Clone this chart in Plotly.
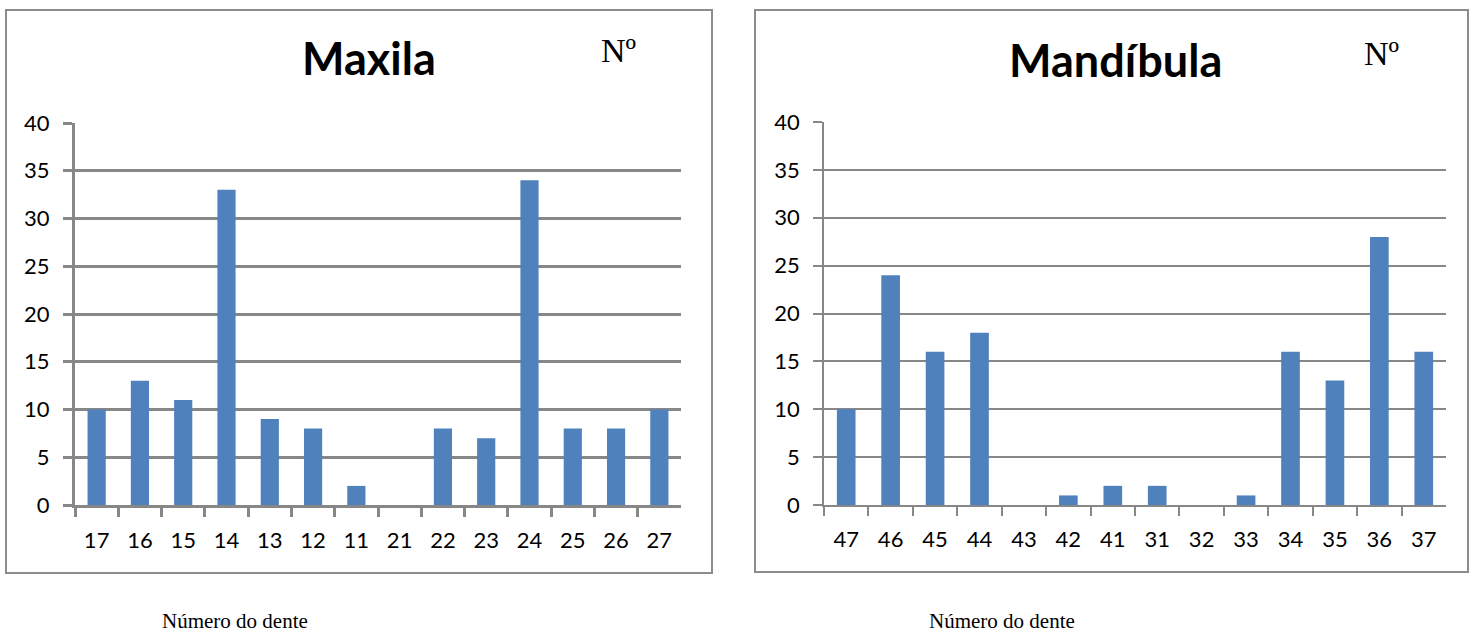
import plotly.graph_objects as go

# Tooth counts per tooth number
maxila_teeth = ["17", "16", "15", "14", "13", "12", "11", "21", "22", "23", "24", "25", "26", "27"]
maxila_counts = [10, 13, 11, 33, 9, 8, 2, 0, 8, 7, 34, 8, 8, 10]

mandibula_teeth = ["47", "46", "45", "44", "43", "42", "41", "31", "32", "33", "34", "35", "36", "37"]
mandibula_counts = [10, 24, 16, 18, 0, 1, 2, 2, 0, 1, 16, 13, 28, 16]

y_ticks = [0, 5, 10, 15, 20, 25, 30, 35, 40]

W, H = 1476, 633
BAR = "#4F81BD"
GRID = "#878787"


def px(x):
    return x / W


def py(y):
    return 1 - y / H


fig = go.Figure()
fig.add_trace(go.Bar(x=maxila_teeth, y=maxila_counts, marker=dict(color=BAR, line=dict(width=0)),
                     xaxis="x", yaxis="y", showlegend=False))
fig.add_trace(go.Bar(x=mandibula_teeth, y=mandibula_counts, marker=dict(color=BAR, line=dict(width=0)),
                     xaxis="x2", yaxis="y2", showlegend=False))

tick_font = dict(family="Lato, 'Open Sans', sans-serif", size=22, color="#000000")


def xaxis(domain, anchor, lw):
    return dict(domain=domain, anchor=anchor, type="category", tickson="boundaries",
                ticks="outside", ticklen=9, tickwidth=lw, tickcolor=GRID,
                showline=True, linecolor=GRID, linewidth=lw, showgrid=False,
                tickfont=tick_font, ticklabelstandoff=14, fixedrange=True,
                automargin=False)


def yaxis(domain, anchor, lw):
    return dict(domain=domain, anchor=anchor, range=[0, 40], tickvals=y_ticks,
                ticks="outside", ticklen=9, tickwidth=lw, tickcolor=GRID,
                showline=True, linecolor=GRID, linewidth=lw,
                showgrid=True, gridcolor=GRID, gridwidth=lw, zeroline=False,
                tickfont=tick_font, ticklabelstandoff=9, fixedrange=True,
                automargin=False)


fig.update_layout(
    width=W, height=H,
    margin=dict(l=0, r=0, t=0, b=0, pad=0, autoexpand=False),
    paper_bgcolor="white", plot_bgcolor="white",
    bargap=0.58,
    xaxis=xaxis([px(75), px(681)], "y", 3),
    yaxis=yaxis([py(505), py(123)], "x", 3),
    xaxis2=xaxis([px(824), px(1446)], "y2", 1.5),
    yaxis2=yaxis([py(505), py(122)], "x2", 1.5),
)

# Chart frames
fig.add_shape(type="rect", xref="paper", yref="paper",
              x0=px(6), x1=px(712), y0=py(573), y1=py(10),
              line=dict(color="#8C8C8C", width=2), layer="below")
fig.add_shape(type="rect", xref="paper", yref="paper",
              x0=px(755), x1=px(1468), y0=py(572), y1=py(10),
              line=dict(color="#8C8C8C", width=2), layer="below")

title_font = dict(family="Lato, 'Open Sans', sans-serif", size=45, color="#000000")
serif = "'Liberation Serif', 'Times New Roman', serif"

annotations = [
    dict(text="<b>Maxila</b>", x=px(369), y=py(58), font=title_font),
    dict(text="<b>Mandíbula</b>", x=px(1115), y=py(60), font=title_font),
    dict(text="Nº", x=px(618), y=py(50), font=dict(family=serif, size=34, color="#000000")),
    dict(text="Nº", x=px(1381), y=py(54), font=dict(family=serif, size=34, color="#000000")),
    dict(text="Número do dente", x=px(235), y=py(621), font=dict(family=serif, size=21, color="#000000")),
    dict(text="Número do dente", x=px(1002), y=py(621), font=dict(family=serif, size=21, color="#000000")),
]
for a in annotations:
    fig.add_annotation(xref="paper", yref="paper", showarrow=False,
                       xanchor="center", yanchor="middle", **a)

fig.write_html("out.html")
